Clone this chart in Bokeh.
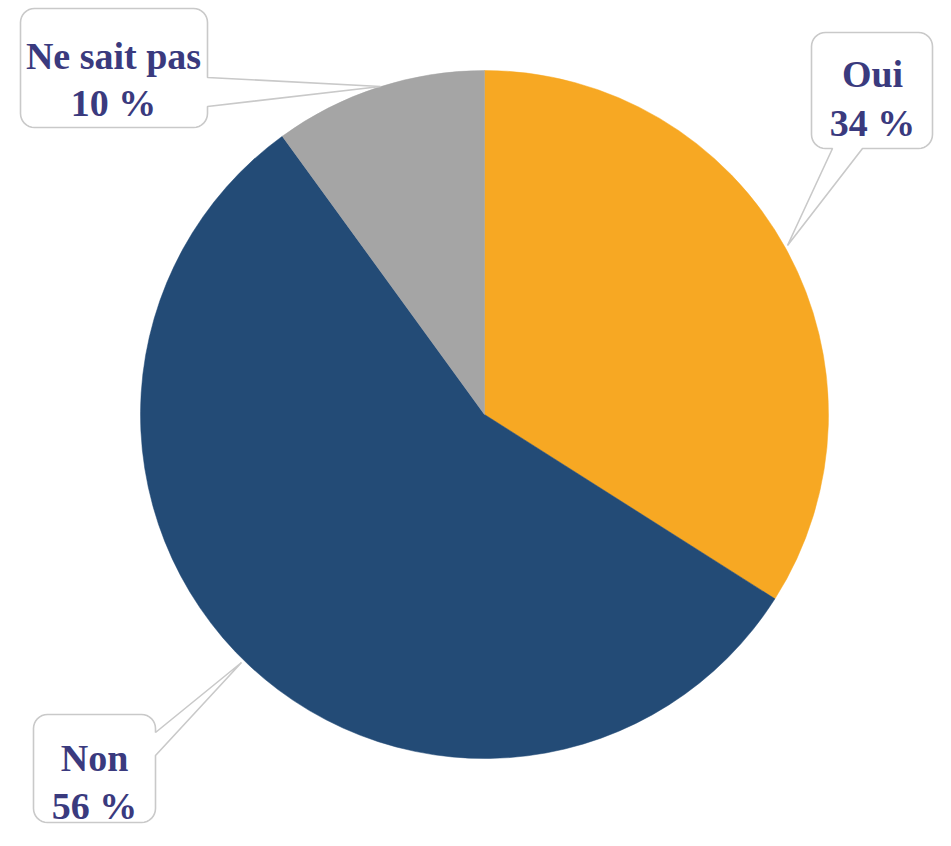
import math
from bokeh.plotting import figure
from bokeh.models import ColumnDataSource, Range1d
from bokeh.core.properties import value
from bokeh.embed import file_html
from bokeh.resources import INLINE

# ---- data ----
categories = ["Oui", "Non", "Ne sait pas"]
percents = [34, 56, 10]
colors = ["#F7A823", "#234B76", "#A5A5A5"]
label_names = ["Oui", "Non", "Ne sait pas"]
label_values = ["34 %", "56 %", "10 %"]

W, H = 935, 830


def Y(py):
    return H - py


p = figure(width=W, height=H, output_backend="svg", toolbar_location=None,
           x_range=Range1d(0, W), y_range=Range1d(0, H),
           x_axis_location=None, y_axis_location=None, min_border=0,
           background_fill_color="white", border_fill_color="white")
p.grid.visible = False
p.outline_line_color = None

# ---- pie ----
cx, cy, R = 484, 414, 344
total = sum(percents)
starts, ends = [], []
acc = 0.0
for v in percents:
    starts.append(math.pi / 2 - acc / total * 2 * math.pi)
    acc += v
    ends.append(math.pi / 2 - acc / total * 2 * math.pi)
src = ColumnDataSource(dict(start=starts, end=ends, color=colors, cat=categories))
p.wedge(x=cx, y=Y(cy), radius=R, start_angle="start", end_angle="end",
        direction="clock", fill_color="color", line_color="color", line_width=0.5,
        source=src)


# ---- callouts ----
def rounded_arc(cxp, cyp, r, a0, a1, n=8):
    pts = []
    for i in range(n + 1):
        a = a0 + (a1 - a0) * i / n
        pts.append((cxp + r * math.cos(a), cyp + r * math.sin(a)))
    return pts


def callout(x0, y0, x1, y1, side, base, tip, r=14):
    # pixel coords, y down; clockwise on screen
    pts = [(x0 + r, y0), (x1 - r, y0)]
    pts += rounded_arc(x1 - r, y0 + r, r, -math.pi / 2, 0)
    if side == "right":
        pts += [(x1, base[0]), tip, (x1, base[1])]
    pts += [(x1, y1 - r)]
    pts += rounded_arc(x1 - r, y1 - r, r, 0, math.pi / 2)
    if side == "bottom":
        pts += [(base[1], y1), tip, (base[0], y1)]
    pts += [(x0 + r, y1)]
    pts += rounded_arc(x0 + r, y1 - r, r, math.pi / 2, math.pi)
    pts += [(x0, y0 + r)]
    pts += rounded_arc(x0 + r, y0 + r, r, math.pi, 1.5 * math.pi)
    xs = [q[0] for q in pts]
    ys = [Y(q[1]) for q in pts]
    return xs, ys


boxes = [
    # Oui
    dict(box=(811, 32, 932, 148), side="bottom", base=(832, 862), tip=(787, 245),
         tx=872, ty=(73, 122)),
    # Non
    dict(box=(33, 714, 155, 822), side="right", base=(732, 755), tip=(241, 662),
         tx=94, ty=(757, 805)),
    # Ne sait pas
    dict(box=(20, 8, 207, 127), side="right", base=(77, 106), tip=(380, 86),
         tx=113, ty=(55, 102)),
]

pxs, pys = [], []
for b in boxes:
    x0, y0, x1, y1 = b["box"]
    xs, ys = callout(x0, y0, x1, y1, b["side"], b["base"], b["tip"])
    pxs.append(xs)
    pys.append(ys)
p.patches(xs=pxs, ys=pys, fill_color="white", line_color="#C9C9C9", line_width=1.6)

tx, ty, tt = [], [], []
for b, n, v in zip(boxes, label_names, label_values):
    tx += [b["tx"], b["tx"]]
    ty += [Y(b["ty"][0]), Y(b["ty"][1])]
    tt += [n, v]
p.text(x=tx, y=ty, text=tt, text_font=value("Liberation Serif"),
       text_font_style="bold", text_font_size="38px", text_color="#3A3A7E",
       text_align="center", text_baseline="alphabetic")

open("out.html", "w").write(file_html(p, INLINE))
